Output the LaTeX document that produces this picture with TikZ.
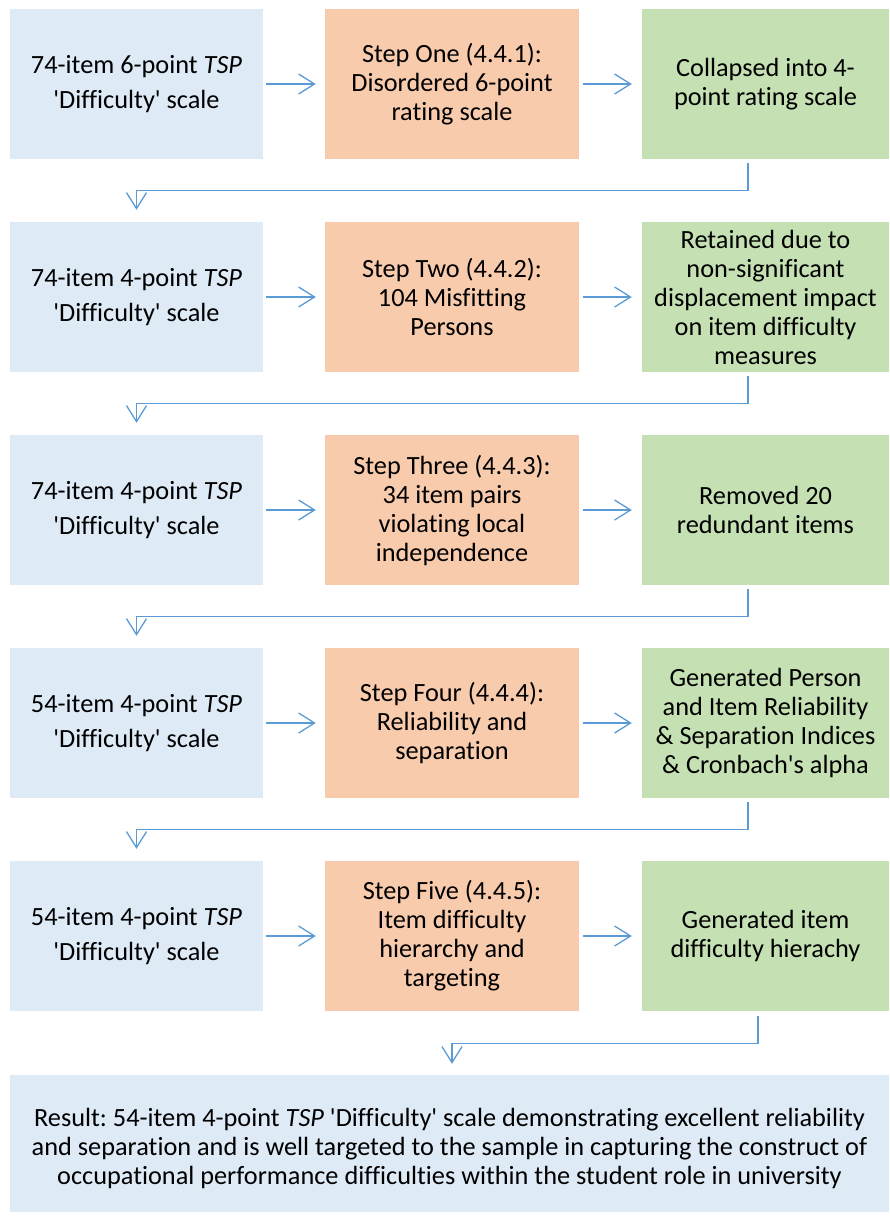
\documentclass[tikz,border=0pt]{standalone}
\usepackage{fontspec}
\setmainfont{Carlito}[Ligatures={TeXOff,NoCommon}]
\usetikzlibrary{arrows.meta}
\frenchspacing
\definecolor{bluebox}{HTML}{DEEAF6}
\definecolor{orangebox}{HTML}{F8CBAD}
\definecolor{greenbox}{HTML}{C5E0B3}
\definecolor{arrowblue}{HTML}{5B9BD5}
\tikzset{
  box/.style={inner sep=0pt, align=center, anchor=center},
  scalebox/.style={box, fill=bluebox, minimum width=253pt, minimum height=150pt,
    font=\fontsize{26.3}{35}\selectfont},
  stepbox/.style={box, fill=orangebox, minimum width=254pt, minimum height=150pt,
    font=\fontsize{26.3}{29}\selectfont},
  outbox/.style={box, fill=greenbox, minimum width=247pt, minimum height=150pt,
    font=\fontsize{26.3}{29}\selectfont},
  flow/.style={draw=arrowblue, line width=1.3pt,
    -{Straight Barb[length=16pt,width=20pt,line width=1.3pt]}},
}
\begin{document}
\begin{tikzpicture}[x=1pt,y=-1pt]
\useasboundingbox (0,0) rectangle (890,1221);

% row 1
\node[scalebox] (s1) at (136.5,84) {74-item 6-point \textit{TSP}\\'Difficulty' scale};
\node[stepbox]  (p1) at (452,84)   {Step One (4.4.1):\\Disordered 6-point\\rating scale};
\node[outbox]   (o1) at (765.5,84) {Collapsed into 4-\\point rating scale};
% row 2
\node[scalebox] (s2) at (136.5,297) {74-item 4-point \textit{TSP}\\'Difficulty' scale};
\node[stepbox]  (p2) at (452,297)   {Step Two (4.4.2):\\104 Misfitting\\Persons};
\node[outbox]   (o2) at (765.5,297) {Retained due to\\non-significant\\displacement impact\\on item difficulty\\measures};
% row 3
\node[scalebox] (s3) at (136.5,510) {74-item 4-point \textit{TSP}\\'Difficulty' scale};
\node[stepbox]  (p3) at (452,510)   {Step Three (4.4.3):\\34 item pairs\\violating local\\independence};
\node[outbox]   (o3) at (765.5,510) {Removed 20\\redundant items};
% row 4
\node[scalebox] (s4) at (136.5,723) {54-item 4-point \textit{TSP}\\'Difficulty' scale};
\node[stepbox]  (p4) at (452,723)   {Step Four (4.4.4):\\Reliability and\\separation};
\node[outbox]   (o4) at (765.5,723) {Generated Person\\and Item Reliability\\\& Separation Indices\\\& Cronbach's alpha};
% row 5
\node[scalebox] (s5) at (136.5,936) {54-item 4-point \textit{TSP}\\'Difficulty' scale};
\node[stepbox]  (p5) at (452,936)   {Step Five (4.4.5):\\Item difficulty\\hierarchy and\\targeting};
\node[outbox]   (o5) at (765.5,936) {Generated item\\difficulty hierachy};
% result
\node[box, fill=bluebox, minimum width=879pt, minimum height=137pt] (res) at (449.5,1143.5) {};
\node[box, font=\fontsize{26.3}{29}\selectfont] (restext) at ([yshift=-5pt]res.center)
  {Result: 54-item 4-point \textit{TSP} 'Difficulty' scale demonstrating excellent reliability\\
   and separation and is well targeted to the sample in capturing the construct of\\
   occupational performance difficulties within the student role in university};

% arrows within each row
\foreach \i in {1,...,5}{
  \draw[flow] ([xshift=3pt]s\i.east) -- ([xshift=-9pt]p\i.west);
  \draw[flow] ([xshift=4pt]p\i.east) -- ([xshift=-10pt]o\i.west);
}

% arrows from one row to the next
\foreach \i/\j in {1/2,2/3,3/4,4/5}{
  \draw[flow] ([xshift=-17.5pt,yshift=-4pt]o\i.south) |- ++(0,27) -| ([yshift=12pt]s\j.north);
}
\draw[flow] ([xshift=-7.5pt,yshift=-5pt]o5.south) |- ++(0,27) -| ([yshift=11pt]res.north -| p5.south);
\end{tikzpicture}
\end{document}
